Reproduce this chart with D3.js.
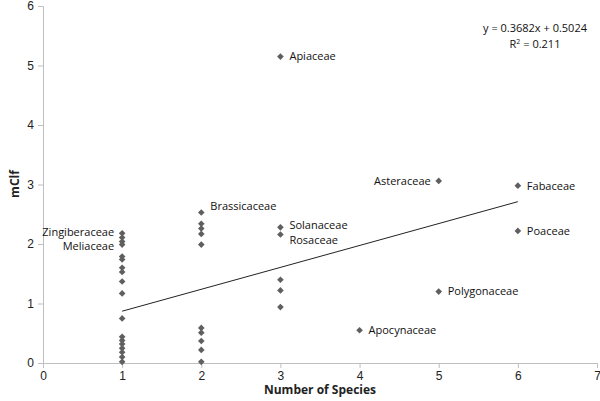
<!DOCTYPE html>
<html>
<head>
<meta charset="utf-8">
<script src="https://d3js.org/d3.v7.min.js"></script>
<style>
  body { margin: 0; background: #fff; }
  svg { font-family: "Open Sans", "Noto Sans", sans-serif; }
</style>
</head>
<body>
<svg id="chart" width="600" height="401"></svg>
<script>
// number of species for each family (x) and its mClf (y)
const xs = [1,1,1,1,1,1,1,1,1,1,1,1,1,1,1,1,1,1,
            2,2,2,2,2,2,2,2,2,2,
            3,3,3,3,3,3,
            4,5,5,6,6];
const ys = [2.18,2.11,2.04,1.99,1.79,1.74,1.60,1.53,1.37,1.17,0.75,0.44,0.38,0.32,0.25,0.18,0.10,0.02,
            2.53,2.34,2.26,2.17,1.99,0.59,0.51,0.37,0.22,0.02,
            5.15,2.28,2.16,1.40,1.22,0.94,
            0.55,3.06,1.20,2.98,2.22];

// labelled families
const labelNames = ["Apiaceae","Asteraceae","Fabaceae","Poaceae","Polygonaceae","Apocynaceae",
                    "Solanaceae","Rosaceae","Brassicaceae","Zingiberaceae","Meliaceae"];
const labelX = [3,5,6,6,5,4,3,3,2,1,1];
const labelY = [5.15,3.06,2.98,2.22,1.20,0.55,2.28,2.16,2.53,2.18,1.99];
const labelSide = ["r","l","r","r","r","r","r","r","r","l","l"];
const labelNudge = [0,0,0,0,0,0,-2,6,-6,-1,2];

const slope = 0.3682, intercept = 0.5024;
const trendRange = [1, 6];
const xTicks = [0,1,2,3,4,5,6,7];
const yTicks = [0,1,2,3,4,5,6];

const svg = d3.select("#chart");
const plotLeft = 43, plotRight = 597, plotTop = 6, plotBottom = 363;

const x = d3.scaleLinear().domain([0,7]).range([plotLeft, plotRight]);
const y = d3.scaleLinear().domain([0,6]).range([plotBottom, plotTop]);

const axisColor = "#bfbfbf";

// x axis
const gx = svg.append("g")
  .attr("transform", "translate(0," + plotBottom + ")")
  .call(d3.axisBottom(x).tickValues(xTicks).tickFormat(d3.format("d")).tickSize(5).tickPadding(3));
gx.select(".domain").attr("stroke", axisColor);
gx.selectAll(".tick line").attr("stroke", axisColor);
gx.selectAll("text").style("font-size", "12px").attr("fill", "#222");

// y axis
const gy = svg.append("g")
  .attr("transform", "translate(" + plotLeft + ",0)")
  .call(d3.axisLeft(y).tickValues(yTicks).tickFormat(d3.format("d")).tickSize(5).tickPadding(4));
gy.select(".domain").attr("stroke", axisColor);
gy.selectAll(".tick line").attr("stroke", axisColor);
gy.selectAll("text").style("font-size", "12px").attr("fill", "#222");

// trendline
svg.append("line")
  .attr("x1", x(trendRange[0])).attr("y1", y(slope * trendRange[0] + intercept))
  .attr("x2", x(trendRange[1])).attr("y2", y(slope * trendRange[1] + intercept))
  .attr("stroke", "#222").attr("stroke-width", 1);

// diamonds
const diamond = d3.symbol().type(d3.symbolSquare).size(22);
svg.selectAll("path.pt")
  .data(xs.map((v, i) => [v, ys[i]]))
  .join("path")
  .attr("class", "pt")
  .attr("d", diamond)
  .attr("transform", d => "translate(" + x(d[0]) + "," + y(d[1]) + ") rotate(45)")
  .attr("fill", "#5f5f5f");

// family labels
svg.selectAll("text.lbl")
  .data(labelNames)
  .join("text")
  .attr("class", "lbl")
  .attr("x", (d, i) => x(labelX[i]) + (labelSide[i] == "r" ? 9 : -8))
  .attr("y", (d, i) => y(labelY[i]) + labelNudge[i])
  .attr("dy", "0.35em")
  .attr("text-anchor", (d, i) => labelSide[i] == "r" ? "start" : "end")
  .style("font-size", "11px")
  .attr("fill", "#111")
  .text(d => d);

// equation
svg.append("text").attr("x", 535).attr("y", 32).attr("text-anchor", "middle")
  .style("font-size", "11px").attr("fill", "#111")
  .text("y = " + slope + "x + " + intercept);
svg.append("text").attr("x", 535).attr("y", 48).attr("text-anchor", "middle")
  .style("font-size", "11px").attr("fill", "#111")
  .html("R<tspan dy='-4' font-size='7px'>2</tspan><tspan dy='4'> = 0.211</tspan>");

// axis titles
svg.append("text").attr("x", 320).attr("y", 394).attr("text-anchor", "middle")
  .style("font-size", "12px").style("font-weight", "bold").attr("fill", "#222")
  .text("Number of Species");
svg.append("text").attr("transform", "translate(19,184) rotate(-90)").attr("text-anchor", "middle")
  .style("font-size", "12px").style("font-weight", "bold").attr("fill", "#222")
  .text("mClf");
</script>
</body>
</html>
